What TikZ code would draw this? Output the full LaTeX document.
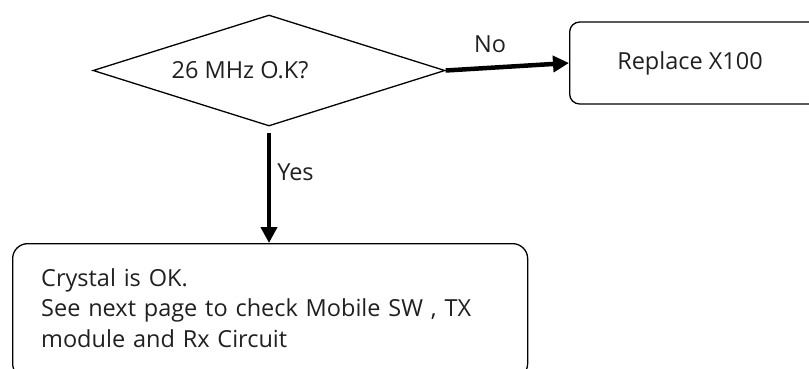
\documentclass[tikz,border=0pt]{standalone}
\usepackage{fontspec}
\setmainfont{Open Sans}
\usetikzlibrary{shapes.geometric,arrows.meta}
\definecolor{txt}{HTML}{231F20}
\tikzset{
  lbl/.style={font=\fontsize{23.5}{30.5}\selectfont, text=txt, inner sep=0pt},
  decision/.style={draw=black, line width=1.3pt, shape=diamond, minimum width=352pt, minimum height=111pt, inner sep=0pt},
  boxshape/.style={draw=black, line width=1.3pt, rounded corners=#1},
  flow/.style={line width=4.5pt, -{Triangle[length=16pt,width=16pt]}}
}
\begin{document}
\begin{tikzpicture}[x=1pt,y=-1pt]
\useasboundingbox (0,0) rectangle (809,368);
\begin{scope}
\clip (0,0) rectangle (809,368);
\node[boxshape=10pt, minimum width=300pt, minimum height=82pt, anchor=west] (r) at (569,63) {};
\node[boxshape=15pt, minimum width=515pt, minimum height=135pt, anchor=north west] (b) at (12,243) {};
\end{scope}
\node[decision] (d) at (269,70.5) {};
\node[lbl, anchor=center] (dt) at (240,70) {26 MHz O.K?};
\node[lbl] (rt) at (690,63) {Replace X100};
\node[lbl, anchor=north west, align=left, text width=480pt] (bt) at (41,268) {Crystal is OK.\\See next page to check Mobile SW , TX\\module and Rx Circuit};
\draw[flow] (d.east) -- (r.west) node[pos=0.36, lbl, anchor=base, yshift=15pt] (no) {No};
\draw[flow] ([yshift=-6pt]d.south) -- (d.south |- b.north) node[pos=0.36, lbl, right=6pt] (yes) {Yes};
\end{tikzpicture}
\end{document}
